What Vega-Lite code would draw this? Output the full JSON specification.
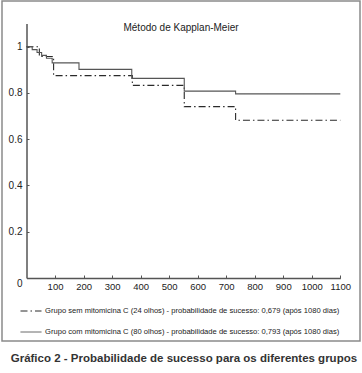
{
  "$schema": "https://vega.github.io/schema/vega-lite/v6.json",
  "width": 358,
  "height": 340,
  "autosize": {"type": "none"},
  "padding": {"left": 2, "top": 1, "right": 2, "bottom": 32},
  "background": "white",
  "title": {
    "text": "Método de Kapplan-Meier",
    "font": "Liberation Sans",
    "fontSize": 10,
    "fontWeight": "normal",
    "color": "#222",
    "anchor": "middle",
    "frame": "group",
    "offset": -32
  },
  "data": {
    "values": [
      {"grupo": "Grupo sem mitomicina C (24 olhos) - probabilidade de sucesso: 0,679 (após 1080 dias)", "t": 0, "s": 1},
      {"grupo": "Grupo sem mitomicina C (24 olhos) - probabilidade de sucesso: 0,679 (após 1080 dias)", "t": 45, "s": 0.958},
      {"grupo": "Grupo sem mitomicina C (24 olhos) - probabilidade de sucesso: 0,679 (após 1080 dias)", "t": 95, "s": 0.875},
      {"grupo": "Grupo sem mitomicina C (24 olhos) - probabilidade de sucesso: 0,679 (após 1080 dias)", "t": 371, "s": 0.833},
      {"grupo": "Grupo sem mitomicina C (24 olhos) - probabilidade de sucesso: 0,679 (após 1080 dias)", "t": 553, "s": 0.741},
      {"grupo": "Grupo sem mitomicina C (24 olhos) - probabilidade de sucesso: 0,679 (após 1080 dias)", "t": 733, "s": 0.682},
      {"grupo": "Grupo sem mitomicina C (24 olhos) - probabilidade de sucesso: 0,679 (após 1080 dias)", "t": 1100, "s": 0.682},
      {"grupo": "Grupo com mitomicina C (80 olhos) - probabilidade de sucesso: 0,793 (após 1080 dias)", "t": 0, "s": 1},
      {"grupo": "Grupo com mitomicina C (80 olhos) - probabilidade de sucesso: 0,793 (após 1080 dias)", "t": 20, "s": 0.9875},
      {"grupo": "Grupo com mitomicina C (80 olhos) - probabilidade de sucesso: 0,793 (após 1080 dias)", "t": 37, "s": 0.975},
      {"grupo": "Grupo com mitomicina C (80 olhos) - probabilidade de sucesso: 0,793 (após 1080 dias)", "t": 53, "s": 0.9625},
      {"grupo": "Grupo com mitomicina C (80 olhos) - probabilidade de sucesso: 0,793 (após 1080 dias)", "t": 70, "s": 0.95},
      {"grupo": "Grupo com mitomicina C (80 olhos) - probabilidade de sucesso: 0,793 (após 1080 dias)", "t": 90, "s": 0.93},
      {"grupo": "Grupo com mitomicina C (80 olhos) - probabilidade de sucesso: 0,793 (após 1080 dias)", "t": 184, "s": 0.902},
      {"grupo": "Grupo com mitomicina C (80 olhos) - probabilidade de sucesso: 0,793 (após 1080 dias)", "t": 369, "s": 0.863},
      {"grupo": "Grupo com mitomicina C (80 olhos) - probabilidade de sucesso: 0,793 (após 1080 dias)", "t": 553, "s": 0.808},
      {"grupo": "Grupo com mitomicina C (80 olhos) - probabilidade de sucesso: 0,793 (após 1080 dias)", "t": 733, "s": 0.796},
      {"grupo": "Grupo com mitomicina C (80 olhos) - probabilidade de sucesso: 0,793 (após 1080 dias)", "t": 1100, "s": 0.796}
    ]
  },
  "mark": {"type": "line", "interpolate": "step-after", "strokeWidth": 1.1},
  "encoding": {
    "x": {
      "field": "t",
      "type": "quantitative",
      "scale": {"domain": [0, 1100], "range": [24.5, 338.3], "nice": false, "zero": false},
      "axis": {
        "values": [100, 200, 300, 400, 500, 600, 700, 800, 900, 1000, 1100],
        "format": "d",
        "offset": -63,
        "grid": false,
        "domainColor": "#555",
        "domainWidth": 1.5,
        "tickColor": "#555",
        "tickWidth": 1,
        "tickSize": -3,
        "labelPadding": 6,
        "labelFont": "Liberation Sans",
        "labelFontSize": 9.5,
        "labelColor": "#222",
        "labelFlush": false,
        "labelOverlap": false,
        "title": "Gráfico 2 - Probabilidade de sucesso para os diferentes grupos",
        "titleFont": "Liberation Sans",
        "titleFontSize": 11.5,
        "titleFontWeight": "bold",
        "titleColor": "#333",
        "titlePadding": 62
      }
    },
    "y": {
      "field": "s",
      "type": "quantitative",
      "scale": {"domain": [0, 1.1], "range": [277, 22.6], "nice": false, "zero": false},
      "axis": {
        "values": [0, 0.2, 0.4, 0.6, 0.8, 1],
        "format": ".1~f",
        "offset": -24.5,
        "grid": false,
        "domainColor": "#555",
        "domainWidth": 1.5,
        "tickColor": "#555",
        "tickWidth": 1,
        "tickSize": -2.5,
        "labelPadding": 7,
        "labelFont": "Liberation Sans",
        "labelFontSize": 10,
        "labelColor": "#222",
        "labelFlush": false,
        "labelOverlap": false,
        "labelOffset": {"condition": {"test": "datum.value === 0", "value": 5}, "value": 0},
        "title": null
      }
    },
    "color": {
      "field": "grupo",
      "type": "nominal",
      "scale": {
        "domain": [
          "Grupo sem mitomicina C (24 olhos) - probabilidade de sucesso: 0,679 (após 1080 dias)",
          "Grupo com mitomicina C (80 olhos) - probabilidade de sucesso: 0,793 (após 1080 dias)"
        ],
        "range": ["#2a2a2a", "#555555"]
      },
      "legend": {"title": null}
    },
    "strokeDash": {
      "field": "grupo",
      "type": "nominal",
      "scale": {
        "domain": [
          "Grupo sem mitomicina C (24 olhos) - probabilidade de sucesso: 0,679 (após 1080 dias)",
          "Grupo com mitomicina C (80 olhos) - probabilidade de sucesso: 0,793 (após 1080 dias)"
        ],
        "range": [[7, 3, 1.5, 3], [1, 0]]
      },
      "legend": {"title": null}
    },
    "order": {"field": "t", "type": "quantitative"}
  },
  "config": {
    "view": {"stroke": "#8a8a8a", "strokeWidth": 1.5},
    "legend": {
      "orient": "none",
      "legendX": 18,
      "legendY": 299,
      "padding": 0,
      "symbolType": "stroke",
      "symbolSize": 441,
      "symbolStrokeWidth": 1,
      "labelFont": "Liberation Sans",
      "labelFontSize": 7.6,
      "labelColor": "#1a1a1a",
      "labelLimit": 400,
      "labelOffset": 3,
      "rowPadding": 6
    }
  }
}
